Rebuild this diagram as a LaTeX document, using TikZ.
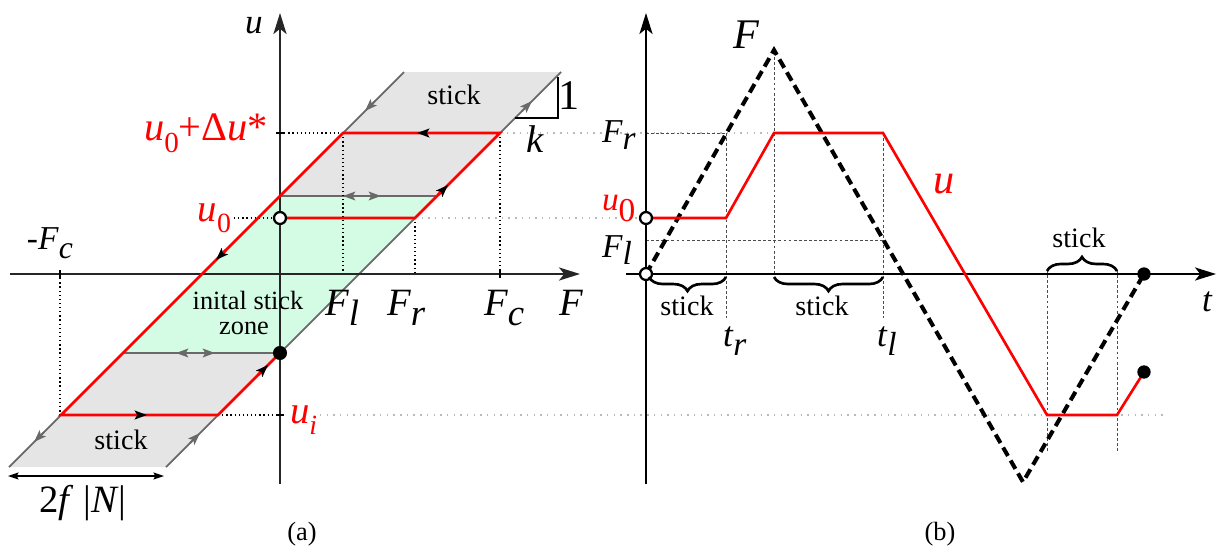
\documentclass[tikz,border=0pt]{standalone}
\usepackage{fontspec}
\setmainfont{Liberation Serif}
\usetikzlibrary{arrows.meta,decorations.pathreplacing}
\definecolor{stickgray}{RGB}{229,229,229}
\definecolor{stickgreen}{RGB}{212,252,228}
\definecolor{edgegray}{RGB}{105,105,105}
\definecolor{dotgray}{RGB}{185,185,185}
\newcommand\fs[1]{\fontsize{#1}{#1}\selectfont}
\newcommand\sbF[1]{\raisebox{-0.27em}{\scalebox{0.95}{#1}}}
\newcommand\sbU[1]{\raisebox{-0.31em}{\scalebox{0.72}{#1}}}
\begin{document}
\begin{tikzpicture}[x=0.02cm,y=-0.02cm,
  lbl/.style={inner sep=0pt, outer sep=0pt},
  axisL/.style={draw=black!85, line width=0.8pt, -{Stealth[length=12pt,width=7.5pt,inset=3pt]}},
  axisR/.style={draw=black, line width=0.8pt, -{Stealth[length=12pt,width=7.5pt,inset=3pt]}},
  edge/.style={draw=edgegray, line width=1pt},
  garr/.style={draw=edgegray, line width=1pt, -{Stealth[length=7pt,width=5pt,inset=1.5pt]}},
  barr/.style={draw=red, line width=1.5pt, -{Stealth[length=7pt,width=5pt,inset=1.5pt,color=black]}},
  redline/.style={draw=red, line width=1.5pt, line join=miter},
  blackdot/.style={draw=black, line width=0.75pt, dash pattern=on 0.75pt off 1.6pt},
  lightdot/.style={draw=dotgray, line width=0.8pt, dash pattern=on 0.8pt off 3pt},
  thindash/.style={draw=black!70, line width=0.55pt, dash pattern=on 1.6pt off 1.3pt},
  Fdash/.style={draw=black, line width=2.3pt, dash pattern=on 5.5pt off 3pt},
  brc/.style={draw=black, line width=1.5pt, decorate, decoration={brace, amplitude=8pt}},
  tick/.style={draw=black, line width=1.2pt},
  opendot/.style={draw=black, fill=white, line width=1.3pt},
  fulldot/.style={fill=black},
  dimarr/.style={draw=black, line width=0.8pt, {Stealth[length=6pt,width=4pt,inset=1pt]}-{Stealth[length=6pt,width=4pt,inset=1pt]}}
]
\useasboundingbox (0,0) rectangle (1217,552);

% ---------- panel (a): zones ----------
\fill[stickgray] (404,72) -- (561,72) -- (437,196) -- (280,196) -- cycle;
\fill[stickgreen] (280,196) -- (437,196) -- (280,353) -- (123,353) -- cycle;
\fill[stickgray] (123,353) -- (280,353) -- (166,467) -- (9,467) -- cycle;

% light dotted guide lines
\draw[lightdot] (500,133) -- (774,133);
\draw[lightdot] (415,218) -- (646,218);
\draw[lightdot] (320,415) -- (1163,415);

% gray edges
\draw[edge] (404,72) -- (9,467);
\draw[edge] (561,72) -- (166,467);
\draw[edge] (280,196) -- (437,196);
\draw[edge] (123,353) -- (280,353);
\draw[garr] (375,101) -- (365,111);
\draw[garr] (522,111) -- (532,101);
\draw[garr] (44,432) -- (34,442);
\draw[garr] (190,443) -- (200,433);
\draw[garr] (356,196) -- (343,196);
\draw[garr] (368,196) -- (381,196);
\draw[garr] (189,353) -- (176,353);
\draw[garr] (202,353) -- (215,353);

% slope triangle
\draw[black, line width=0.6pt] (515,118) -- (558,118) -- (558,77);

% black dotted lines
\draw[blackdot] (280,133) -- (343,133);
\draw[blackdot] (234,218) -- (276,218);
\draw[blackdot] (218,415) -- (280,415);
\draw[blackdot] (343,133) -- (343,274);
\draw[blackdot] (415,218) -- (415,274);
\draw[blackdot] (500,133) -- (500,274);
\draw[blackdot] (60,274) -- (60,415);

% axes (a)
\draw[axisL] (280,484) -- (280,13);
\draw[axisL] (10,274) -- (580,274);
\draw[tick] (276,133) -- (284,133);
\draw[tick] (276,415) -- (284,415);
\draw[tick] (60,270) -- (60,278);
\draw[tick] (500,270) -- (500,278);

% red path (a)
\draw[redline] (280,218) -- (415,218) -- (500,133) -- (343,133) -- (61,415) -- (218,415) -- (280,353);
\draw[barr] (430,133) -- (417,133);
\draw[barr] (438,195) -- (448,185);
\draw[barr] (226,250) -- (216,260);
\draw[barr] (134,415) -- (147,415);
\draw[barr] (258,375) -- (268,365);

\draw[opendot] (280,218) circle[radius=3.4pt];
\fill[fulldot] (280,353) circle[radius=4pt];

% dimension arrow
\draw[dimarr] (8,476) -- (164,476);

% ---------- panel (b) ----------
\draw[thindash] (646,133) -- (726,133);
\draw[thindash] (726,133) -- (726,318);
\draw[thindash] (774,52) -- (774,274);
\draw[thindash] (646,240) -- (883,240);
\draw[thindash] (883,133) -- (883,318);
\draw[thindash] (1047,270) -- (1047,452);
\draw[thindash] (1117,270) -- (1117,452);

\draw[axisR] (646,484) -- (646,13);
\draw[axisR] (626,274) -- (1216,274);

\draw[Fdash] (646,274) -- (774,50) -- (1023,482) -- (1144,274);
\draw[redline] (646,218) -- (726,218) -- (774,133) -- (883,133) -- (1047,415) -- (1117,415) -- (1144,372);

\draw[opendot] (646,218) circle[radius=3.4pt];
\draw[opendot] (646,274) circle[radius=3.4pt];
\fill[fulldot] (1144,274) circle[radius=3.8pt];
\fill[fulldot] (1144,372) circle[radius=3.8pt];

\draw[brc] (726,277) -- (649,277);
\draw[brc] (883,277) -- (774,277);
\draw[brc] (1047,271) -- (1117,271);

% ---------- labels (a) ----------
\node[lbl, font=\fs{20}, anchor=base] (ulab) at (254,33) {\textit{u}};
\node[lbl, font=\fs{23}, text=red, anchor=base east] (udu) at (268,140) {\textit{u}\sbU{0}+Δ\textit{u}*};
\node[lbl, font=\fs{22}, text=red, anchor=base east] (u0a) at (231,221) {\textit{u}\sbU{0}};
\node[lbl, font=\fs{22}, text=red, anchor=base west] (uia) at (290,423) {\textit{u}\sbU{\textit{i}}};
\node[lbl, font=\fs{19}, anchor=base west] (mFc) at (27,249) {-\textit{F}\sbF{\textit{c}}};
\node[lbl, font=\fs{22}, anchor=base west] (Fla) at (325,315) {\textit{F}\sbF{\textit{l}}};
\node[lbl, font=\fs{22}, anchor=base west] (Fra) at (387,315) {\textit{F}\sbF{\textit{r}}};
\node[lbl, font=\fs{22}, anchor=base west] (Fca) at (484,315) {\textit{F}\sbF{\textit{c}}};
\node[lbl, font=\fs{22}, anchor=base west] (Fax) at (559,315) {\textit{F}};
\node[lbl, font=\fs{15}, anchor=base] (isz1) at (248,309) {inital stick};
\node[lbl, font=\fs{15}, anchor=base] (isz2) at (244,334) {zone};
\node[lbl, font=\fs{16}, anchor=base] (stkA) at (454,104) {stick};
\node[lbl, font=\fs{16}, anchor=base] (stkB) at (121,449) {stick};
\node[lbl, font=\fs{24}, anchor=base] (one) at (569,109) {1};
\node[lbl, font=\fs{22}, anchor=base] (klab) at (535,152) {\textit{k}};
\node[lbl, font=\fs{22}, anchor=base] (fN) at (83,512) {2\textit{f} |\textit{N}|};
\node[lbl, font=\fs{15}, anchor=base] (capa) at (302,540) {(a)};

% ---------- labels (b) ----------
\node[lbl, font=\fs{24}, anchor=base west] (Ftop) at (733,48) {\textit{F}};
\node[lbl, font=\fs{24}, text=red, anchor=base west] (ulb) at (933,193) {\textit{u}};
\node[lbl, font=\fs{19}, anchor=base west] (Frb) at (602,142) {\textit{F}\raisebox{-0.22em}{\textit{r}}};
\node[lbl, font=\fs{19}, text=red, anchor=base west] (u0b) at (602,210) {\textit{u}\raisebox{-0.35em}{0}};
\node[lbl, font=\fs{19}, anchor=base west] (Flb) at (602,257) {\textit{F}\raisebox{-0.22em}{\textit{l}}};
\node[lbl, font=\fs{16}, anchor=base] (stkC) at (687,315) {stick};
\node[lbl, font=\fs{16}, anchor=base] (stkD) at (822,315) {stick};
\node[lbl, font=\fs{16}, anchor=base] (stkE) at (1079,247) {stick};
\node[lbl, font=\fs{20}, anchor=base west] (trl) at (723,346) {\textit{t}\sbF{\textit{r}}};
\node[lbl, font=\fs{20}, anchor=base west] (tll) at (877,346) {\textit{t}\sbF{\textit{l}}};
\node[lbl, font=\fs{20}, anchor=base west] (tax) at (1202,311) {\textit{t}};
\node[lbl, font=\fs{15}, anchor=base] (capb) at (940,540) {(b)};
\end{tikzpicture}
\end{document}
